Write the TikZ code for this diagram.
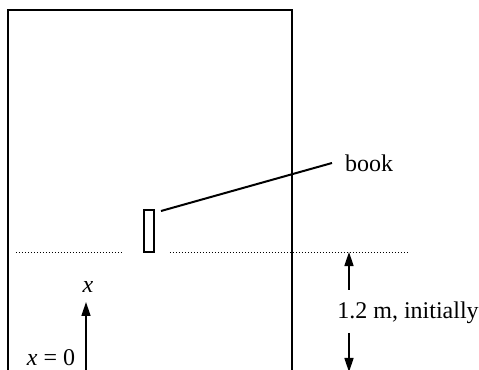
\documentclass[tikz,border=0pt]{standalone}
\usepackage{fontspec}
\setmainfont{Liberation Serif}
\usetikzlibrary{arrows.meta,positioning}
\tikzset{
  wall/.style={line width=1pt},
  level/.style={line width=0.5pt,dash pattern=on 0.5pt off 1pt},
  dimarrow/.style={line width=0.75pt,-{Triangle[length=7pt,width=4.5pt]}},
}
\begin{document}
\begin{tikzpicture}[x=0.5pt,y=-0.5pt,font=\fontsize{12}{14}\selectfont]
\useasboundingbox (0,0) rectangle (479,370);
% room
\draw[wall] (8,375) -- (8,10) -- (292,10) -- (292,375);
% book and its initial level
\node[draw,line width=0.75pt,minimum width=5pt,minimum height=21pt,inner sep=0pt] (book) at (149,231) {};
\draw[level] (16,252) -- (122,252);
\draw[level] (170,252) -- (408,252);
\node[anchor=west] (booklbl) at (338,163) {book};
\coordinate (lead) at (161,211);
\draw[line width=1pt] (lead) -- ([xshift=-3pt]booklbl.west);
% height
\node (height) at (408,313) {1.2 m, initially};
\coordinate (top) at (349,252);
\coordinate (bot) at (349,372);
\coordinate (up) at (349,290);
\coordinate (dn) at (349,333);
\draw[dimarrow] (up) -- (top);
\draw[dimarrow] (dn) -- (bot);
% x axis
\coordinate (orig) at (86,372);
\coordinate (xtip) at (86,302);
\node (xlbl) at (88,287) {\textit{x}};
\draw[dimarrow] (orig) -- (xtip);
\node (zero) at (51,358) {\textit{x} = 0};
\end{tikzpicture}
\end{document}
